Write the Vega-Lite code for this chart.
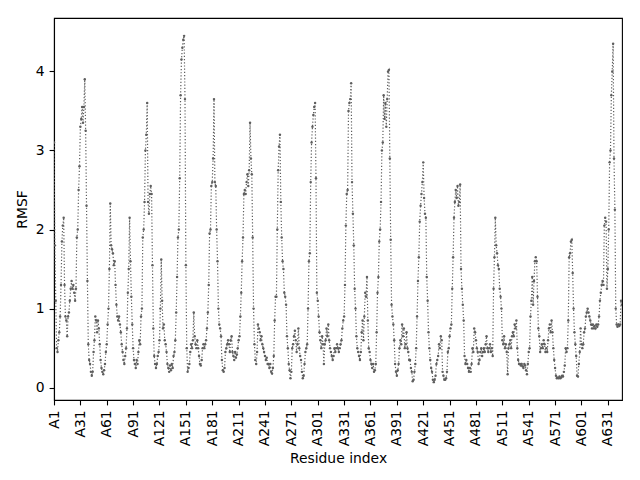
{
  "$schema": "https://vega.github.io/schema/vega-lite/v6.json",
  "width": 568,
  "height": 382,
  "autosize": "none",
  "padding": {"left": 54, "top": 18, "right": 18, "bottom": 80},
  "background": "white",
  "data": {
    "values": [
      {"r":1,"v":3.1},{"r":2,"v":1.8},{"r":3,"v":1.1},{"r":4,"v":0.5},{"r":5,"v":0.45},{"r":6,"v":0.6},{"r":7,"v":0.7},{"r":8,"v":0.9},{"r":9,"v":1.3},{"r":10,"v":1.85},
      {"r":11,"v":2.05},{"r":12,"v":2.15},{"r":13,"v":1.3},{"r":14,"v":0.9},{"r":15,"v":0.85},{"r":16,"v":0.65},{"r":17,"v":0.9},{"r":18,"v":0.95},{"r":19,"v":1.1},{"r":20,"v":1.25},
      {"r":21,"v":1.35},{"r":22,"v":1.25},{"r":23,"v":1.3},{"r":24,"v":1.2},{"r":25,"v":1.1},{"r":26,"v":1.25},{"r":27,"v":1.9},{"r":28,"v":2.0},{"r":29,"v":2.5},{"r":30,"v":2.8},
      {"r":31,"v":3.3},{"r":32,"v":3.4},{"r":33,"v":3.55},{"r":34,"v":3.35},{"r":35,"v":3.55},{"r":36,"v":3.9},{"r":37,"v":3.25},{"r":38,"v":2.3},{"r":39,"v":1.35},{"r":40,"v":0.55},
      {"r":41,"v":0.35},{"r":42,"v":0.3},{"r":43,"v":0.2},{"r":44,"v":0.15},{"r":45,"v":0.2},{"r":46,"v":0.45},{"r":47,"v":0.6},{"r":48,"v":0.9},{"r":49,"v":0.85},{"r":50,"v":0.7},
      {"r":51,"v":0.85},{"r":52,"v":0.75},{"r":53,"v":0.55},{"r":54,"v":0.35},{"r":55,"v":0.25},{"r":56,"v":0.2},{"r":57,"v":0.17},{"r":58,"v":0.22},{"r":59,"v":0.3},{"r":60,"v":0.45},
      {"r":61,"v":0.55},{"r":62,"v":0.8},{"r":63,"v":1.0},{"r":64,"v":1.5},{"r":65,"v":2.33},{"r":66,"v":1.8},{"r":67,"v":1.75},{"r":68,"v":1.7},{"r":69,"v":1.55},{"r":70,"v":1.6},
      {"r":71,"v":1.3},{"r":72,"v":1.05},{"r":73,"v":0.9},{"r":74,"v":0.85},{"r":75,"v":0.9},{"r":76,"v":0.8},{"r":77,"v":0.7},{"r":78,"v":0.55},{"r":79,"v":0.45},{"r":80,"v":0.35},
      {"r":81,"v":0.3},{"r":82,"v":0.4},{"r":83,"v":0.5},{"r":84,"v":0.75},{"r":85,"v":1.2},{"r":86,"v":1.5},{"r":87,"v":2.15},{"r":88,"v":1.6},{"r":89,"v":1.15},{"r":90,"v":0.8},
      {"r":91,"v":0.5},{"r":92,"v":0.35},{"r":93,"v":0.3},{"r":94,"v":0.25},{"r":95,"v":0.35},{"r":96,"v":0.3},{"r":97,"v":0.45},{"r":98,"v":0.6},{"r":99,"v":0.55},{"r":100,"v":0.9},
      {"r":101,"v":1.0},{"r":102,"v":1.9},{"r":103,"v":2.0},{"r":104,"v":2.35},{"r":105,"v":3.0},{"r":106,"v":3.2},{"r":107,"v":3.6},{"r":108,"v":2.35},{"r":109,"v":2.2},{"r":110,"v":2.45},
      {"r":111,"v":2.55},{"r":112,"v":2.45},{"r":113,"v":1.55},{"r":114,"v":0.75},{"r":115,"v":0.4},{"r":116,"v":0.3},{"r":117,"v":0.25},{"r":118,"v":0.3},{"r":119,"v":0.4},{"r":120,"v":0.45},
      {"r":121,"v":0.6},{"r":122,"v":1.0},{"r":123,"v":1.62},{"r":124,"v":1.1},{"r":125,"v":0.75},{"r":126,"v":0.8},{"r":127,"v":0.6},{"r":128,"v":0.55},{"r":129,"v":0.45},{"r":130,"v":0.3},
      {"r":131,"v":0.25},{"r":132,"v":0.2},{"r":133,"v":0.28},{"r":134,"v":0.22},{"r":135,"v":0.3},{"r":136,"v":0.25},{"r":137,"v":0.4},{"r":138,"v":0.45},{"r":139,"v":0.6},{"r":140,"v":0.95},
      {"r":141,"v":1.4},{"r":142,"v":1.9},{"r":143,"v":2.0},{"r":144,"v":2.65},{"r":145,"v":3.7},{"r":146,"v":4.15},{"r":147,"v":4.3},{"r":148,"v":4.4},{"r":149,"v":4.45},{"r":150,"v":3.65},
      {"r":151,"v":1.55},{"r":152,"v":0.5},{"r":153,"v":0.2},{"r":154,"v":0.25},{"r":155,"v":0.3},{"r":156,"v":0.45},{"r":157,"v":0.55},{"r":158,"v":0.5},{"r":159,"v":0.6},{"r":160,"v":0.95},
      {"r":161,"v":0.65},{"r":162,"v":0.55},{"r":163,"v":0.5},{"r":164,"v":0.6},{"r":165,"v":0.5},{"r":166,"v":0.4},{"r":167,"v":0.3},{"r":168,"v":0.28},{"r":169,"v":0.35},{"r":170,"v":0.5},
      {"r":171,"v":0.55},{"r":172,"v":0.5},{"r":173,"v":0.55},{"r":174,"v":0.6},{"r":175,"v":0.75},{"r":176,"v":0.95},{"r":177,"v":1.3},{"r":178,"v":1.95},{"r":179,"v":2.0},{"r":180,"v":2.55},
      {"r":181,"v":2.6},{"r":182,"v":2.9},{"r":183,"v":3.65},{"r":184,"v":2.6},{"r":185,"v":2.55},{"r":186,"v":2.0},{"r":187,"v":1.6},{"r":188,"v":1.0},{"r":189,"v":0.8},{"r":190,"v":0.75},
      {"r":191,"v":0.65},{"r":192,"v":0.35},{"r":193,"v":0.22},{"r":194,"v":0.2},{"r":195,"v":0.25},{"r":196,"v":0.45},{"r":197,"v":0.5},{"r":198,"v":0.55},{"r":199,"v":0.6},{"r":200,"v":0.55},
      {"r":201,"v":0.45},{"r":202,"v":0.6},{"r":203,"v":0.65},{"r":204,"v":0.45},{"r":205,"v":0.4},{"r":206,"v":0.35},{"r":207,"v":0.45},{"r":208,"v":0.38},{"r":209,"v":0.42},{"r":210,"v":0.5},
      {"r":211,"v":0.6},{"r":212,"v":0.65},{"r":213,"v":0.9},{"r":214,"v":1.2},{"r":215,"v":1.6},{"r":216,"v":1.9},{"r":217,"v":2.45},{"r":218,"v":2.5},{"r":219,"v":2.45},{"r":220,"v":2.6},
      {"r":221,"v":2.7},{"r":222,"v":2.55},{"r":223,"v":2.75},{"r":224,"v":3.35},{"r":225,"v":2.9},{"r":226,"v":2.7},{"r":227,"v":1.9},{"r":228,"v":1.0},{"r":229,"v":0.55},{"r":230,"v":0.35},
      {"r":231,"v":0.3},{"r":232,"v":0.45},{"r":233,"v":0.8},{"r":234,"v":0.75},{"r":235,"v":0.7},{"r":236,"v":0.6},{"r":237,"v":0.65},{"r":238,"v":0.55},{"r":239,"v":0.5},{"r":240,"v":0.45},
      {"r":241,"v":0.4},{"r":242,"v":0.35},{"r":243,"v":0.38},{"r":244,"v":0.3},{"r":245,"v":0.3},{"r":246,"v":0.25},{"r":247,"v":0.3},{"r":248,"v":0.2},{"r":249,"v":0.18},{"r":250,"v":0.25},
      {"r":251,"v":0.4},{"r":252,"v":0.85},{"r":253,"v":1.15},{"r":254,"v":1.15},{"r":255,"v":2.0},{"r":256,"v":2.75},{"r":257,"v":3.05},{"r":258,"v":3.2},{"r":259,"v":2.35},{"r":260,"v":1.9},
      {"r":261,"v":1.6},{"r":262,"v":1.5},{"r":263,"v":1.2},{"r":264,"v":1.15},{"r":265,"v":1.05},{"r":266,"v":0.65},{"r":267,"v":0.5},{"r":268,"v":0.3},{"r":269,"v":0.22},{"r":270,"v":0.12},
      {"r":271,"v":0.2},{"r":272,"v":0.5},{"r":273,"v":0.55},{"r":274,"v":0.65},{"r":275,"v":0.72},{"r":276,"v":0.6},{"r":277,"v":0.45},{"r":278,"v":0.55},{"r":279,"v":0.75},{"r":280,"v":0.5},
      {"r":281,"v":0.4},{"r":282,"v":0.35},{"r":283,"v":0.2},{"r":284,"v":0.12},{"r":285,"v":0.15},{"r":286,"v":0.3},{"r":287,"v":0.45},{"r":288,"v":0.5},{"r":289,"v":0.55},{"r":290,"v":1.0},
      {"r":291,"v":1.6},{"r":292,"v":1.7},{"r":293,"v":2.6},{"r":294,"v":3.1},{"r":295,"v":3.3},{"r":296,"v":3.45},{"r":297,"v":3.55},{"r":298,"v":3.6},{"r":299,"v":2.65},{"r":300,"v":1.2},
      {"r":301,"v":1.1},{"r":302,"v":0.9},{"r":303,"v":0.7},{"r":304,"v":0.6},{"r":305,"v":0.5},{"r":306,"v":0.65},{"r":307,"v":0.55},{"r":308,"v":0.3},{"r":309,"v":0.55},{"r":310,"v":0.6},
      {"r":311,"v":0.75},{"r":312,"v":0.65},{"r":313,"v":0.8},{"r":314,"v":0.6},{"r":315,"v":0.5},{"r":316,"v":0.45},{"r":317,"v":0.4},{"r":318,"v":0.35},{"r":319,"v":0.4},{"r":320,"v":0.5},
      {"r":321,"v":0.45},{"r":322,"v":0.5},{"r":323,"v":0.55},{"r":324,"v":0.5},{"r":325,"v":0.45},{"r":326,"v":0.5},{"r":327,"v":0.55},{"r":328,"v":0.6},{"r":329,"v":0.75},{"r":330,"v":0.85},
      {"r":331,"v":0.9},{"r":332,"v":1.3},{"r":333,"v":2.05},{"r":334,"v":2.45},{"r":335,"v":2.5},{"r":336,"v":3.5},{"r":337,"v":3.6},{"r":338,"v":3.65},{"r":339,"v":3.85},{"r":340,"v":2.6},
      {"r":341,"v":2.2},{"r":342,"v":1.8},{"r":343,"v":1.25},{"r":344,"v":1.0},{"r":345,"v":0.65},{"r":346,"v":0.5},{"r":347,"v":0.45},{"r":348,"v":0.4},{"r":349,"v":0.35},{"r":350,"v":0.45},
      {"r":351,"v":0.7},{"r":352,"v":0.85},{"r":353,"v":0.6},{"r":354,"v":0.9},{"r":355,"v":1.2},{"r":356,"v":1.15},{"r":357,"v":1.4},{"r":358,"v":0.85},{"r":359,"v":0.5},{"r":360,"v":0.45},
      {"r":361,"v":0.35},{"r":362,"v":0.3},{"r":363,"v":0.25},{"r":364,"v":0.3},{"r":365,"v":0.2},{"r":366,"v":0.22},{"r":367,"v":0.3},{"r":368,"v":0.7},{"r":369,"v":1.2},{"r":370,"v":1.4},
      {"r":371,"v":1.85},{"r":372,"v":2.0},{"r":373,"v":2.35},{"r":374,"v":3.0},{"r":375,"v":3.1},{"r":376,"v":3.7},{"r":377,"v":3.4},{"r":378,"v":3.6},{"r":379,"v":3.3},{"r":380,"v":3.65},
      {"r":381,"v":4.0},{"r":382,"v":4.02},{"r":383,"v":2.9},{"r":384,"v":1.87},{"r":385,"v":1.05},{"r":386,"v":0.9},{"r":387,"v":0.8},{"r":388,"v":0.6},{"r":389,"v":0.3},{"r":390,"v":0.2},
      {"r":391,"v":0.15},{"r":392,"v":0.22},{"r":393,"v":0.3},{"r":394,"v":0.5},{"r":395,"v":0.6},{"r":396,"v":0.55},{"r":397,"v":0.8},{"r":398,"v":0.65},{"r":399,"v":0.75},{"r":400,"v":0.5},
      {"r":401,"v":0.55},{"r":402,"v":0.7},{"r":403,"v":0.5},{"r":404,"v":0.45},{"r":405,"v":0.35},{"r":406,"v":0.35},{"r":407,"v":0.25},{"r":408,"v":0.2},{"r":409,"v":0.08},{"r":410,"v":0.1},
      {"r":411,"v":0.2},{"r":412,"v":0.3},{"r":413,"v":0.5},{"r":414,"v":0.9},{"r":415,"v":1.35},{"r":416,"v":1.65},{"r":417,"v":2.1},{"r":418,"v":2.3},{"r":419,"v":2.45},{"r":420,"v":2.6},
      {"r":421,"v":2.85},{"r":422,"v":2.4},{"r":423,"v":2.2},{"r":424,"v":2.15},{"r":425,"v":1.4},{"r":426,"v":1.1},{"r":427,"v":0.7},{"r":428,"v":0.5},{"r":429,"v":0.35},{"r":430,"v":0.25},
      {"r":431,"v":0.2},{"r":432,"v":0.1},{"r":433,"v":0.07},{"r":434,"v":0.1},{"r":435,"v":0.15},{"r":436,"v":0.3},{"r":437,"v":0.35},{"r":438,"v":0.4},{"r":439,"v":0.55},{"r":440,"v":0.5},
      {"r":441,"v":0.65},{"r":442,"v":0.6},{"r":443,"v":0.2},{"r":444,"v":0.15},{"r":445,"v":0.1},{"r":446,"v":0.1},{"r":447,"v":0.12},{"r":448,"v":0.2},{"r":449,"v":0.45},{"r":450,"v":0.5},
      {"r":451,"v":0.65},{"r":452,"v":0.75},{"r":453,"v":0.8},{"r":454,"v":1.25},{"r":455,"v":1.65},{"r":456,"v":2.15},{"r":457,"v":2.35},{"r":458,"v":2.5},{"r":459,"v":2.4},{"r":460,"v":2.55},
      {"r":461,"v":2.3},{"r":462,"v":2.35},{"r":463,"v":2.57},{"r":464,"v":1.5},{"r":465,"v":1.25},{"r":466,"v":1.05},{"r":467,"v":0.85},{"r":468,"v":0.4},{"r":469,"v":0.3},{"r":470,"v":0.35},
      {"r":471,"v":0.3},{"r":472,"v":0.25},{"r":473,"v":0.2},{"r":474,"v":0.25},{"r":475,"v":0.2},{"r":476,"v":0.3},{"r":477,"v":0.5},{"r":478,"v":0.45},{"r":479,"v":0.75},{"r":480,"v":0.7},
      {"r":481,"v":0.6},{"r":482,"v":0.5},{"r":483,"v":0.45},{"r":484,"v":0.3},{"r":485,"v":0.35},{"r":486,"v":0.45},{"r":487,"v":0.5},{"r":488,"v":0.4},{"r":489,"v":0.45},{"r":490,"v":0.5},
      {"r":491,"v":0.45},{"r":492,"v":0.55},{"r":493,"v":0.65},{"r":494,"v":0.5},{"r":495,"v":0.45},{"r":496,"v":0.5},{"r":497,"v":0.55},{"r":498,"v":0.45},{"r":499,"v":0.5},{"r":500,"v":0.4},
      {"r":501,"v":1.25},{"r":502,"v":1.65},{"r":503,"v":2.15},{"r":504,"v":1.8},{"r":505,"v":1.7},{"r":506,"v":1.55},{"r":507,"v":1.5},{"r":508,"v":1.25},{"r":509,"v":1.15},{"r":510,"v":1.0},
      {"r":511,"v":0.6},{"r":512,"v":0.55},{"r":513,"v":0.65},{"r":514,"v":0.5},{"r":515,"v":0.55},{"r":516,"v":0.45},{"r":517,"v":0.17},{"r":518,"v":0.5},{"r":519,"v":0.55},{"r":520,"v":0.6},
      {"r":521,"v":0.5},{"r":522,"v":0.65},{"r":523,"v":0.7},{"r":524,"v":0.65},{"r":525,"v":0.8},{"r":526,"v":0.75},{"r":527,"v":0.85},{"r":528,"v":0.5},{"r":529,"v":0.35},{"r":530,"v":0.3},
      {"r":531,"v":0.3},{"r":532,"v":0.28},{"r":533,"v":0.3},{"r":534,"v":0.27},{"r":535,"v":0.25},{"r":536,"v":0.3},{"r":537,"v":0.28},{"r":538,"v":0.22},{"r":539,"v":0.17},{"r":540,"v":0.3},
      {"r":541,"v":0.45},{"r":542,"v":0.5},{"r":543,"v":0.9},{"r":544,"v":1.1},{"r":545,"v":1.4},{"r":546,"v":1.05},{"r":547,"v":1.35},{"r":548,"v":1.6},{"r":549,"v":1.65},{"r":550,"v":1.6},
      {"r":551,"v":1.15},{"r":552,"v":0.75},{"r":553,"v":0.65},{"r":554,"v":0.45},{"r":555,"v":0.5},{"r":556,"v":0.55},{"r":557,"v":0.5},{"r":558,"v":0.6},{"r":559,"v":0.55},{"r":560,"v":0.45},
      {"r":561,"v":0.5},{"r":562,"v":0.45},{"r":563,"v":0.6},{"r":564,"v":0.75},{"r":565,"v":0.8},{"r":566,"v":0.7},{"r":567,"v":0.85},{"r":568,"v":0.7},{"r":569,"v":0.5},{"r":570,"v":0.35},
      {"r":571,"v":0.25},{"r":572,"v":0.15},{"r":573,"v":0.12},{"r":574,"v":0.13},{"r":575,"v":0.12},{"r":576,"v":0.14},{"r":577,"v":0.12},{"r":578,"v":0.13},{"r":579,"v":0.15},{"r":580,"v":0.14},
      {"r":581,"v":0.2},{"r":582,"v":0.28},{"r":583,"v":0.5},{"r":584,"v":0.45},{"r":585,"v":0.5},{"r":586,"v":0.85},{"r":587,"v":1.65},{"r":588,"v":1.7},{"r":589,"v":1.85},{"r":590,"v":1.87},
      {"r":591,"v":1.45},{"r":592,"v":1.0},{"r":593,"v":0.7},{"r":594,"v":0.55},{"r":595,"v":0.4},{"r":596,"v":0.15},{"r":597,"v":0.14},{"r":598,"v":0.3},{"r":599,"v":0.45},{"r":600,"v":0.75},
      {"r":601,"v":0.55},{"r":602,"v":0.5},{"r":603,"v":0.55},{"r":604,"v":0.7},{"r":605,"v":0.75},{"r":606,"v":0.9},{"r":607,"v":0.95},{"r":608,"v":1.0},{"r":609,"v":0.95},{"r":610,"v":0.9},
      {"r":611,"v":0.85},{"r":612,"v":0.8},{"r":613,"v":0.75},{"r":614,"v":0.8},{"r":615,"v":0.75},{"r":616,"v":0.78},{"r":617,"v":0.75},{"r":618,"v":0.8},{"r":619,"v":0.77},{"r":620,"v":0.8},
      {"r":621,"v":0.9},{"r":622,"v":1.1},{"r":623,"v":1.2},{"r":624,"v":1.3},{"r":625,"v":1.35},{"r":626,"v":1.3},{"r":627,"v":2.05},{"r":628,"v":2.15},{"r":629,"v":2.1},{"r":630,"v":1.25},
      {"r":631,"v":1.5},{"r":632,"v":2.0},{"r":633,"v":2.85},{"r":634,"v":3.0},{"r":635,"v":3.7},{"r":636,"v":4.0},{"r":637,"v":4.35},{"r":638,"v":2.9},{"r":639,"v":2.25},{"r":640,"v":1.0},
      {"r":641,"v":0.8},{"r":642,"v":0.77},{"r":643,"v":0.8},{"r":644,"v":0.78},{"r":645,"v":0.8},{"r":646,"v":1.1},{"r":647,"v":1.05}
    ]
  },
  "encoding": {
    "x": {
      "field": "r",
      "type": "quantitative",
      "scale": {"domain": [1, 647.1], "nice": false, "zero": false},
      "axis": {
        "title": "Residue index",
        "values": [1, 31, 61, 91, 121, 151, 181, 211, 241, 271, 301, 331, 361, 391, 421, 451, 481, 511, 541, 571, 601, 631],
        "labelExpr": "'A' + datum.value",
        "labelAngle": 270,
        "labelOverlap": false,
        "labelFlush": false,
        "labelBound": false
      }
    },
    "y": {
      "field": "v",
      "type": "quantitative",
      "scale": {"domain": [-0.156, 4.676], "nice": false, "zero": false},
      "axis": {"title": "RMSF", "values": [0, 1, 2, 3, 4], "format": "d"}
    }
  },
  "layer": [
    {"mark": {"type": "line", "color": "#5e5e5e", "strokeWidth": 1.2, "strokeDash": [1.2, 2], "clip": true}},
    {"mark": {"type": "point", "filled": true, "color": "#5e5e5e", "opacity": 1, "size": 6, "clip": true}}
  ],
  "config": {
    "view": {"stroke": "black", "strokeWidth": 1.1},
    "axis": {
      "grid": false,
      "domainColor": "black",
      "domainWidth": 1.1,
      "tickColor": "black",
      "tickWidth": 1.1,
      "tickSize": 4.9,
      "labelPadding": 4.9,
      "labelFont": "DejaVu Sans",
      "labelFontSize": 13.9,
      "labelColor": "black",
      "titleFont": "DejaVu Sans",
      "titleFontSize": 13.9,
      "titleFontWeight": "normal",
      "titleColor": "black",
      "titlePadding": 5.5
    }
  }
}
